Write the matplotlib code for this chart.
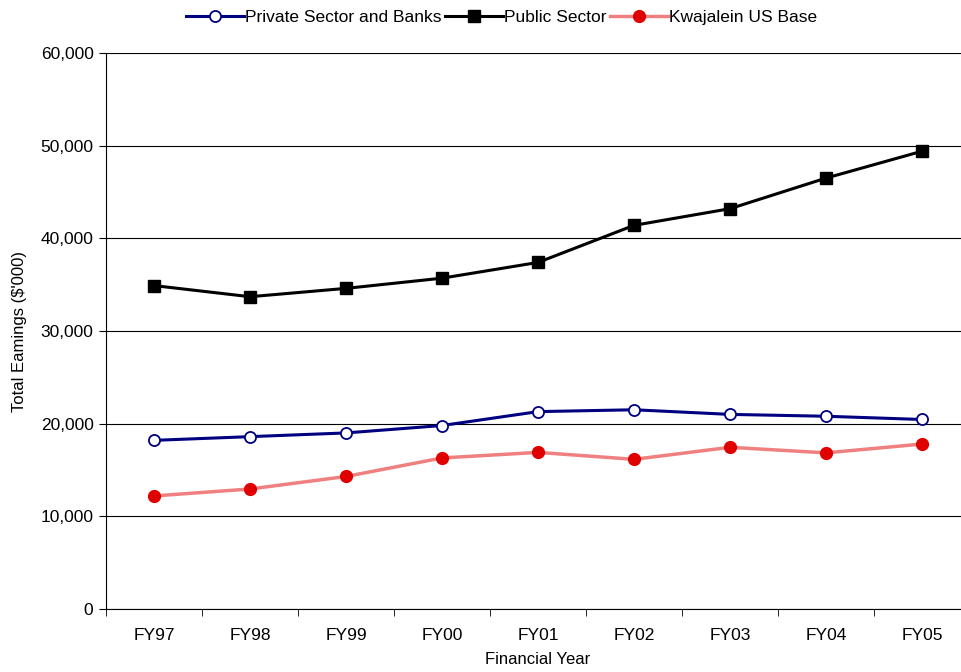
import matplotlib
matplotlib.use("Agg")
import matplotlib.pyplot as plt
import numpy as np

years = ["FY97", "FY98", "FY99", "FY00", "FY01", "FY02", "FY03", "FY04", "FY05"]
private = [18200, 18600, 19000, 19800, 21300, 21500, 21000, 20800, 20450]
public = [34900, 33700, 34600, 35700, 37400, 41400, 43200, 46500, 49400]
kwaj = [12200, 12950, 14300, 16300, 16900, 16150, 17450, 16850, 17800]

plt.rcParams['font.family'] = ['Liberation Sans', 'DejaVu Sans']
fs = 12.5
fig = plt.figure(figsize=(9.61, 6.72), dpi=100)
ax = fig.add_axes([106/961, 63/672, 864/961, 556/672])

x = np.arange(len(years))
ax.plot(x, private, color='#000080', lw=2.2, marker='o', ms=8, mfc='white', mec='#000080', mew=1.3,
        label='Private Sector and Banks')
ax.plot(x, public, color='black', lw=2.2, marker='s', ms=8.5, mfc='black', mec='black',
        label='Public Sector')
ax.plot(x, kwaj, color='#F08080', lw=2.5, marker='o', ms=8.5, mfc='#E00000', mec='#E00000',
        label='Kwajalein US Base')

ax.set_xlim(-0.5, len(years) - 0.5)
ax.set_ylim(0, 60000)
ax.set_yticks(np.arange(0, 60001, 10000))
ax.set_yticklabels([f"{v:,}" for v in range(0, 60001, 10000)], fontsize=fs)
ax.set_xticks(x)
ax.set_xticklabels(years, fontsize=fs)
ax.set_xticks(np.arange(-0.5, len(years), 1), minor=True)
ax.tick_params(axis='x', which='major', length=0, pad=14)
ax.tick_params(axis='x', which='minor', length=5, color='black')
ax.tick_params(axis='y', length=5, color='black', pad=4)
ax.grid(axis='y', color='black', lw=0.8)
ax.set_axisbelow(True)
for s in ['top', 'right']:
    ax.spines[s].set_visible(False)
ax.spines['left'].set_color('black')
ax.spines['bottom'].set_color('black')
ax.set_ylabel("Total Eamings ($'000)", fontsize=fs - 0.5, labelpad=10)
ax.set_xlabel("Financial Year", fontsize=fs - 0.5, labelpad=6)

fig.legend(loc='upper center', bbox_to_anchor=(0.522, 1.008), ncol=3, frameon=False, fontsize=fs,
           handlelength=3.3, handletextpad=0.05, columnspacing=0.25)

fig.savefig("out.png", dpi=100)
